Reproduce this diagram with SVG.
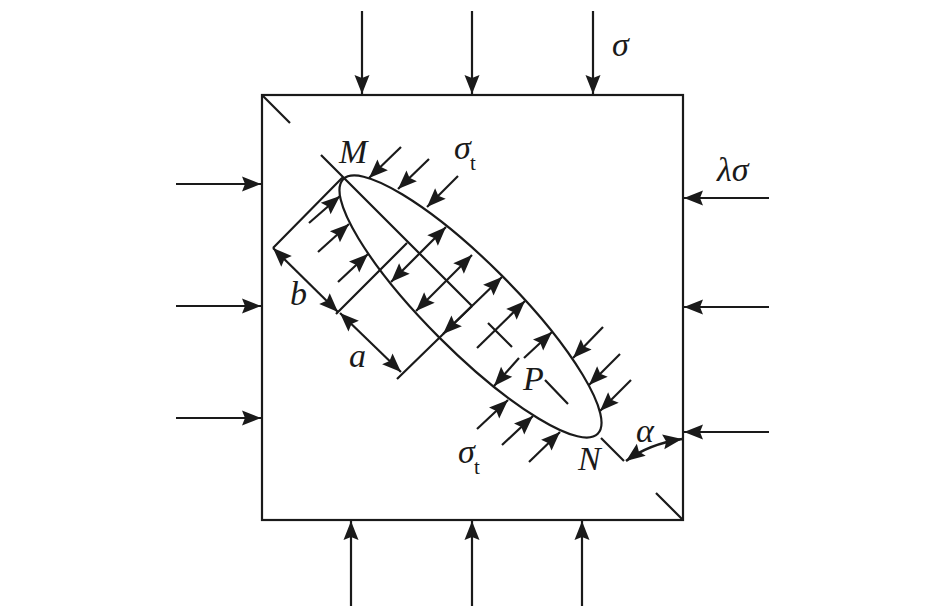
<svg xmlns="http://www.w3.org/2000/svg" width="945" height="607" viewBox="0 0 945 607">
<style>
.l{fill:none;stroke:#1a1a1a;stroke-width:2.2}
.a{fill:none;stroke:#1a1a1a;stroke-width:2.2;marker-end:url(#h)}
.d{fill:none;stroke:#1a1a1a;stroke-width:2.2;marker-start:url(#s);marker-end:url(#h)}
text{font-family:"Liberation Serif","Times New Roman",serif;fill:#1a1a1a}
.i{font-style:italic;font-size:34px}
.t{font-size:21px}
</style>
<defs>
<marker id="h" markerUnits="userSpaceOnUse" markerWidth="22" markerHeight="18" refX="20" refY="9" orient="auto"><path d="M20,9 L1,1.500 L4,9 L1,16.500 Z" fill="#1a1a1a"/></marker>
<marker id="s" markerUnits="userSpaceOnUse" markerWidth="22" markerHeight="18" refX="2" refY="9" orient="auto"><path d="M2,9 L21,1.500 L18,9 L21,16.500 Z" fill="#1a1a1a"/></marker>
</defs>
<rect width="945" height="607" fill="#fff"/>
<g id="plate"><rect class="l" x="262" y="95" width="421" height="425"/><path class="l" d="M262,95 L290,123 M656,493 L683,520"/></g>
<g id="crack"><ellipse class="l" cx="470.500" cy="306.500" rx="180" ry="44" transform="rotate(45 470.500 306.500)"/></g>
<g id="connectors">
<path class="a" d="M362,11V94"/><path class="a" d="M472,11V94"/><path class="a" d="M593,11V94"/>
<path class="a" d="M769,198H684"/><path class="a" d="M769,307H684"/><path class="a" d="M769,432H684"/>
<path class="a" d="M176,184H261"/><path class="a" d="M176,306H261"/><path class="a" d="M176,418H261"/>
<path class="a" d="M351,606V521"/><path class="a" d="M472,606V521"/><path class="a" d="M582,606V521"/>
<path class="l" d="M321,155 L472,306 M545,380 L568,404 M488,323 L512,347 M601,438 L624,461 M343,177 L273,248 M336,314 L407,243 M397,379 L472,306"/>
<path class="d" d="M273,248 L338,312"/><path class="d" d="M340,313 L401,372"/>
<path class="a" d="M401,147 L369,178"/><path class="a" d="M429,159 L398,189"/><path class="a" d="M458,176 L427,207"/>
<path class="a" d="M309,223 L340,196"/><path class="a" d="M318,252 L349,224"/><path class="a" d="M338,282 L368,254"/>
<path class="d" d="M391,282 L446,227"/><path class="d" d="M416,311 L472,255"/><path class="d" d="M443,334 L502,277"/>
<path class="a" d="M477,348 L525,301"/><path class="a" d="M524,358 L552,332"/><path class="a" d="M519,358 L494,386"/>
<path class="a" d="M603,327 L573,358"/><path class="a" d="M620,354 L589,385"/><path class="a" d="M631,380 L600,411"/>
<path class="a" d="M477,429 L508,400"/><path class="a" d="M502,445 L533,416"/><path class="a" d="M529,462 L560,432"/>
<path class="d" d="M626,461 Q649,444 682,439" style="stroke-width:2.6"/>
</g>
<g id="labels">
<text class="i" x="612" y="56">σ</text>
<text class="i" x="717" y="181">λσ</text>
<text class="i" x="339" y="163">M</text>
<text class="i" x="454" y="159">σ</text><text class="t" x="470" y="170">t</text>
<text class="i" x="290" y="305">b</text>
<text class="i" x="349" y="367">a</text>
<text class="i" x="523" y="390">P</text>
<text class="i" x="578" y="470">N</text>
<text class="i" x="636" y="442">α</text>
<text class="i" x="458" y="463">σ</text><text class="t" x="474" y="474">t</text>
</g>
</svg>
